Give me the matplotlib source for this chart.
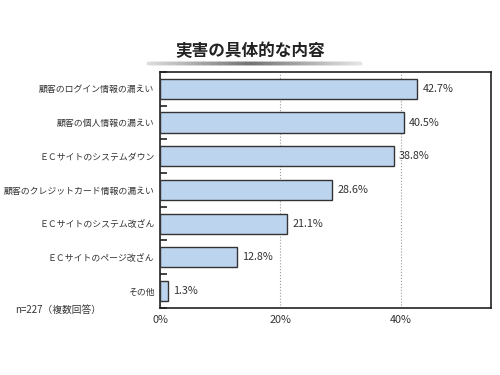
import matplotlib.pyplot as plt
import numpy as np

plt.rcParams['font.family'] = ['Noto Sans CJK JP', 'DejaVu Sans']

categories = ["顧客のログイン情報の漏えい", "顧客の個人情報の漏えい", "ＥＣサイトのシステムダウン",
              "顧客のクレジットカード情報の漏えい", "ＥＣサイトのシステム改ざん",
              "ＥＣサイトのページ改ざん", "その他"]
values = [42.7, 40.5, 38.8, 28.6, 21.1, 12.8, 1.3]
xticks = [0, 20, 40]
xticklabels = ["0%", "20%", "40%"]

fig = plt.figure(figsize=(5, 3.75), dpi=100)
ax = fig.add_axes([0.32, 0.179, 0.662, 0.629])

y = np.arange(len(categories))
ax.barh(y, values, height=0.6, color="#bcd4ee", edgecolor="#333333", linewidth=1.0, zorder=3)
for yi, v in zip(y, values):
    ax.text(v + 0.9, yi, f"{v}%", va="center", ha="left", fontsize=7.8, color="#333333")

ax.set_xlim(0, 55)
ax.set_ylim(len(categories) - 0.5, -0.5)
ax.set_yticks(y)
ax.set_yticklabels(categories, fontsize=6.4, color="#333333")
ax.tick_params(axis="y", which="major", length=0, pad=4)
ax.set_yticks(np.arange(len(categories) + 1) - 0.5, minor=True)
ax.tick_params(axis="y", which="minor", direction="in", length=5, width=1.2, color="#222222")
ax.set_xticks(xticks)
ax.set_xticklabels(xticklabels, fontsize=7.8, color="#333333")
ax.tick_params(axis="x", length=0, pad=5)
ax.grid(axis="x", linestyle=":", color="#999999", linewidth=0.8, zorder=0)
for s in ax.spines.values():
    s.set_linewidth(1.2)
    s.set_color("#222222")

fig.text(0.5, 0.865, "実害の具体的な内容", ha="center", va="center", fontsize=12, fontweight="bold", color="#222222")
# gradient underline under the title
xs = np.linspace(0.296, 0.72, 80)
for i in range(len(xs) - 1):
    g = 0.45 + 0.45 * abs((xs[i] - 0.5) / 0.22)
    fig.add_artist(plt.Line2D([xs[i], xs[i + 1]], [0.833, 0.833], color=str(min(g, 0.9)), linewidth=2.5))

fig.text(0.03, 0.172, "n=227（複数回答）", fontsize=7, color="#333333", va="center")

fig.savefig("out.png", dpi=100)
